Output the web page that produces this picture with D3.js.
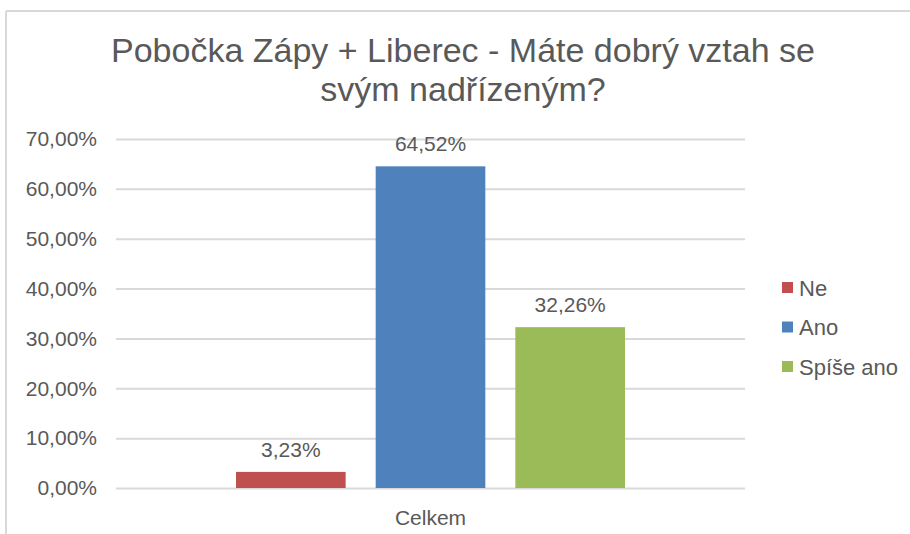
<!DOCTYPE html>
<html lang="cs">
<head>
<meta charset="UTF-8">
<title>Pobočka Zápy + Liberec</title>
<script src="https://d3js.org/d3.v7.min.js"></script>
<style>
    * { margin: 0; padding: 0; box-sizing: border-box; }
    body { background: #fff; font-family: Arial, "Liberation Sans", sans-serif; }
    svg text { fill: #595959; }
</style>
</head>
<body>
<div id="chart"></div>
<script>
// data
const titleLines = ["Pobočka Zápy + Liberec - Máte dobrý vztah se", "svým nadřízeným?"];
const categories = ["Celkem"];
const series = ["Ne", "Ano", "Spíše ano"];
const values = [0.0323, 0.6452, 0.3226];
const colors = ["#C0504D", "#4F81BD", "#9BBB59"];
const yTicks = [0, 0.1, 0.2, 0.3, 0.4, 0.5, 0.6, 0.7];

const W = 910, H = 534;
const plot = { left: 116, right: 745, top: 139, bottom: 488 };

const fmt = v => d3.format(".2f")(v * 100).replace(".", ",") + "%";

const svg = d3.select("#chart").append("svg")
    .attr("width", W)
    .attr("height", H);

// chart area border (only top + left visible in the crop)
svg.append("line").attr("x1", 6).attr("x2", W).attr("y1", 11).attr("y2", 11)
    .attr("stroke", "#d9d9d9").attr("stroke-width", 2);
svg.append("line").attr("x1", 6).attr("x2", 6).attr("y1", 11).attr("y2", H)
    .attr("stroke", "#d9d9d9").attr("stroke-width", 2);

// title
svg.append("text")
    .attr("text-anchor", "middle")
    .style("font-size", "34px")
    .selectAll("tspan")
    .data(titleLines)
    .join("tspan")
    .attr("x", 463)
    .attr("y", (d, i) => 62 + i * 39)
    .text(d => d);

const y = d3.scaleLinear().domain([0, 0.7]).range([plot.bottom, plot.top]);

const x0 = d3.scaleBand().domain(categories)
    .range([plot.left, plot.right])
    .paddingInner(0).paddingOuter(0.3085);

const x1 = d3.scaleBand().domain(series)
    .range([0, x0.bandwidth()])
    .paddingInner(0.215).paddingOuter(0);

// gridlines + y labels
const yAxis = d3.axisLeft(y).tickValues(yTicks).tickFormat(fmt)
    .tickSize(-(plot.right - plot.left)).tickPadding(19);

const gy = svg.append("g")
    .attr("transform", `translate(${plot.left},0)`)
    .call(yAxis);
gy.select(".domain").remove();
gy.selectAll(".tick line").attr("stroke", "#d9d9d9").attr("stroke-width", 2);
gy.selectAll(".tick text")
    .style("font-size", "21px")
    .style("font-family", "Arial, 'Liberation Sans', sans-serif")
    .attr("fill", "#595959");

// x axis label
const xAxis = d3.axisBottom(x0).tickSize(0).tickPadding(22);
const gx = svg.append("g")
    .attr("transform", `translate(0,${plot.bottom})`)
    .call(xAxis);
gx.select(".domain").remove();
gx.selectAll(".tick text")
    .style("font-size", "21px")
    .style("font-family", "Arial, 'Liberation Sans', sans-serif")
    .attr("fill", "#595959");

// bars
const group = svg.append("g")
    .attr("transform", `translate(${x0(categories[0])},0)`);

group.selectAll("rect")
    .data(series)
    .join("rect")
    .attr("x", d => x1(d))
    .attr("width", x1.bandwidth())
    .attr("y", (d, i) => y(values[i]))
    .attr("height", (d, i) => plot.bottom - y(values[i]))
    .attr("fill", (d, i) => colors[i]);

group.selectAll("text.lbl")
    .data(series)
    .join("text")
    .attr("class", "lbl")
    .attr("x", d => x1(d) + x1.bandwidth() / 2)
    .attr("y", (d, i) => y(values[i]) - 15)
    .attr("text-anchor", "middle")
    .style("font-size", "21px")
    .text((d, i) => fmt(values[i]));

// legend
const legend = svg.append("g").attr("transform", "translate(782,288)");
const item = legend.selectAll("g")
    .data(series)
    .join("g")
    .attr("transform", (d, i) => `translate(0,${i * 39.5})`);
item.append("rect")
    .attr("x", 0).attr("y", -6)
    .attr("width", 11).attr("height", 11)
    .attr("fill", (d, i) => colors[i]);
item.append("text")
    .attr("x", 17).attr("y", 0)
    .attr("dy", "0.35em")
    .style("font-size", "22px")
    .text(d => d);
</script>
</body>
</html>
